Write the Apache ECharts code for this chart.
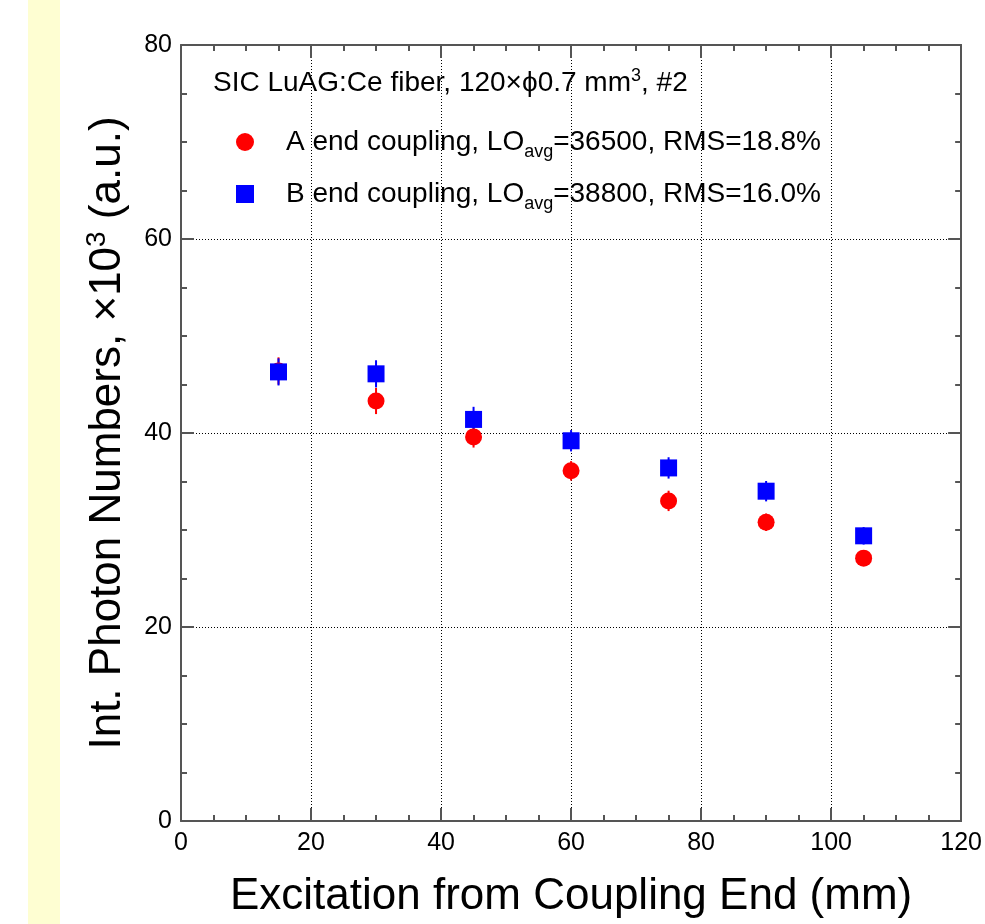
<!DOCTYPE html>
<html>
<head>
<meta charset="utf-8">
<script src="https://cdn.jsdelivr.net/npm/echarts@6/dist/echarts.min.js"></script>
<style>
  html, body { margin: 0; padding: 0; background: #fff; }
  #chart { width: 985px; height: 924px; }
</style>
</head>
<body>
<div id="chart"></div>
<script>
// 数据：激发位置 (mm) 与光子数 (x10^3)
const positions = [15, 30, 45, 60, 75, 90, 105]
const valuesA = [46.4, 43.3, 39.6, 36.1, 33.0, 30.8, 27.1]
const errorsA = [1.4, 1.35, 1.1, 1.0, 1.05, 0.9, 0.8]
const valuesB = [46.3, 46.1, 41.4, 39.2, 36.4, 34.0, 29.4]
const errorsB = [1.4, 1.4, 1.3, 1.1, 1.1, 1.05, 0.9]
const seriesNames = ["A", "B"]

const FONT = "Liberation Sans, Arial, Helvetica, sans-serif"
const frameColor = "#555"

const chart = echarts.init(document.getElementById("chart"))

// 误差棒
const errorSeries = (name, values, errors, color) => ({
  name: name,
  type: "custom",
  silent: true,
  z: 3,
  data: positions.map((x, i) => [x, values[i] - errors[i], values[i] + errors[i]]),
  renderItem: (params, api) => {
    const lo = api.coord([api.value(0), api.value(1)])
    const hi = api.coord([api.value(0), api.value(2)])
    return {
      type: "line",
      shape: { x1: lo[0], y1: lo[1], x2: hi[0], y2: hi[1] },
      style: { stroke: color, lineWidth: 2 },
    }
  },
})

const axisCommon = {
  type: "value",
  axisLine: { show: true, onZero: false, lineStyle: { color: frameColor, width: 2 } },
  axisTick: { show: true, inside: true, length: 13, lineStyle: { color: frameColor, width: 2 } },
  minorTick: { show: true, splitNumber: 4, length: 6, lineStyle: { color: frameColor, width: 2 } },
}

const option = {
  backgroundColor: "#fff",
  animation: false,
  graphic: [
    { type: "rect", z: -10, shape: { x: 28, y: 0, width: 32, height: 924 }, style: { fill: "#fefed2" } },
  ],
  title: {
    left: 213,
    top: 67,
    padding: 0,
    text: "SIC LuAG:Ce fiber, 120×ϕ0.7 mm{sup|3}, #2",
    textStyle: {
      fontFamily: FONT,
      fontSize: 28,
      fontWeight: "normal",
      color: "#000",
      lineHeight: 32,
      rich: {
        sup: { fontSize: 18, fontFamily: FONT, color: "#000", lineHeight: 18, padding: [0, 0, 14, 0], verticalAlign: "top" },
      },
    },
  },
  legend: {
    orient: "vertical",
    left: 236,
    top: 126,
    padding: 0,
    itemWidth: 18,
    itemHeight: 18,
    itemGap: 17,
    data: seriesNames,
    formatter: (name) =>
      name === "A"
        ? "{gap|}A end coupling, LO{sub|avg}=36500, RMS=18.8%"
        : "{gap|}B end coupling, LO{sub|avg}=38800, RMS=16.0%",
    textStyle: {
      fontFamily: FONT,
      fontSize: 28,
      color: "#000",
      lineHeight: 32,
      rich: {
        sub: { fontSize: 18, fontFamily: FONT, color: "#000", lineHeight: 18, padding: [17, 0, 0, 0], verticalAlign: "top" },
        gap: { width: 27 },
      },
    },
  },
  grid: { left: 181, top: 45, width: 782, height: 781, containLabel: false },
  xAxis: [
    {
      ...axisCommon,
      position: "bottom",
      min: 0,
      max: 120,
      interval: 20,
      name: "Excitation from Coupling End (mm)",
      nameLocation: "middle",
      nameGap: 54,
      nameTextStyle: { fontFamily: FONT, fontSize: 44, color: "#000" },
      axisLabel: { fontFamily: FONT, fontSize: 25, color: "#000", margin: 10 },
      splitLine: { show: true, lineStyle: { color: "#000", type: [1, 2], width: 1 } },
    },
    {
      ...axisCommon,
      position: "top",
      min: 0,
      max: 120,
      interval: 20,
      axisLabel: { show: false },
      splitLine: { show: false },
    },
  ],
  yAxis: [
    {
      ...axisCommon,
      position: "left",
      min: 0,
      max: 80,
      interval: 20,
      name: "Int. Photon Numbers, ×10{sup|3} (a.u.)",
      nameLocation: "middle",
      nameRotate: 90,
      nameGap: 42,
      nameTextStyle: {
        fontFamily: FONT,
        fontSize: 44,
        color: "#000",
        lineHeight: 50,
        rich: {
          sup: { fontSize: 28, fontFamily: FONT, color: "#000", lineHeight: 28, padding: [0, 0, 20, 0], verticalAlign: "top" },
        },
      },
      axisLabel: { fontFamily: FONT, fontSize: 25, color: "#000", margin: 9 },
      splitLine: { show: true, lineStyle: { color: "#000", type: [1, 2], width: 1 } },
    },
    {
      ...axisCommon,
      position: "right",
      min: 0,
      max: 80,
      interval: 20,
      axisLabel: { show: false },
      splitLine: { show: false },
    },
  ],
  series: [
    errorSeries("errA", valuesA, errorsA, "#ff0000"),
    {
      name: "A",
      type: "scatter",
      z: 4,
      symbol: "circle",
      symbolSize: 17,
      itemStyle: { color: "#ff0000", opacity: 1 },
      data: positions.map((x, i) => [x, valuesA[i]]),
    },
    errorSeries("errB", valuesB, errorsB, "#0000ff"),
    {
      name: "B",
      type: "scatter",
      z: 5,
      symbol: "rect",
      symbolSize: 17,
      itemStyle: { color: "#0000ff", opacity: 1 },
      data: positions.map((x, i) => [x, valuesB[i]]),
    },
  ],
}

chart.setOption(option)
</script>
</body>
</html>
